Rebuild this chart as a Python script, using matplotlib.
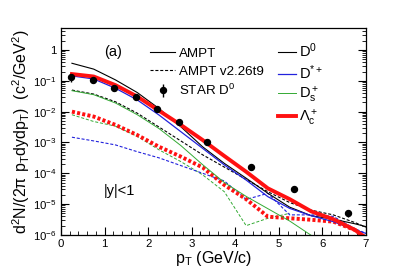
import numpy as np
import matplotlib
matplotlib.use("Agg")
import matplotlib.pyplot as plt
from matplotlib.lines import Line2D
from matplotlib.ticker import LogLocator, MultipleLocator, FixedFormatter, FixedLocator, NullFormatter

plt.rcParams["font.family"] = ["Liberation Sans", "DejaVu Sans"]
plt.rcParams["mathtext.default"] = "regular"
plt.rcParams["lines.scale_dashes"] = False

# pT grid of the model curves
pt = [0.25, 0.75, 1.25, 1.75, 2.25, 2.75, 3.25, 3.75, 4.25, 4.75, 5.25, 5.75, 6.25, 6.75, 7.0]

# AMPT (log10 of yield)
ampt_d0   = [-0.43, -0.62, -0.97, -1.38, -1.90, -2.49, -3.14, -3.68, -4.16, -4.65, -5.10, -5.38, -5.49, -5.64, -5.73]
ampt_dst  = [-0.84, -0.94, -1.24, -1.62, -2.11, -2.65, -3.19, -3.73, -4.22, -4.76, -5.14, -5.38, -5.57, -5.84, -5.95]
ampt_ds   = [-1.32, -1.45, -1.72, -2.10, -2.55, -3.10, -3.72, -4.30, -4.75, -5.15, -5.55, -6.02]
ampt_lc   = [-0.78, -0.86, -1.14, -1.51, -1.97, -2.43, -2.92, -3.44, -3.95, -4.49, -4.84, -5.24, -5.49, -5.84, -6.10]

# AMPT v2.26t9
old_d0    = [-1.30, -1.43, -1.68, -2.05, -2.50, -2.95, -3.40, -3.80, -4.20, -4.60, -4.95, -5.20, -5.35, -5.60, -5.75]
old_dst   = [-2.83, -2.95, -3.08, -3.30, -3.50, -3.75, -4.00, -4.25, -4.85, -4.65, -5.35, -5.35, -5.40, -5.80, -5.95]
old_ds    = [-2.10, -2.32, -2.47, -2.80, -3.24, -3.62, -4.05, -4.60, -5.70, -5.46, -5.30]
old_lc    = [-2.00, -2.16, -2.43, -2.76, -3.14, -3.46, -3.81, -4.38, -4.84, -5.41, -5.46, -5.51, -5.57, -5.84, -6.10]

# STAR D0 data
star_pt  = [0.23, 0.73, 1.22, 1.71, 2.20, 2.71, 3.36, 4.36, 5.36, 6.60]
star_y   = [0.13, 0.104, 0.057, 0.030, 0.012, 0.0045, 0.00104, 1.6e-4, 3.2e-5, 5.0e-6]
star_err = [0.035, 0.008, 0.005, 0.003, 0.001, 0.0004, 0.00008, 1.5e-5, 5e-6, 1.3e-6]

fig = plt.figure(figsize=(4.07, 2.77), dpi=100)
ax = fig.add_axes([0.150, 0.152, 0.749, 0.748])

def draw(vals, color, lw, dashed):
    x = pt[:len(vals)]
    y = 10.0 ** np.array(vals)
    if dashed:
        ax.plot(x, y, color=color, lw=lw, dashes=dashed, dash_capstyle="butt")
    else:
        ax.plot(x, y, color=color, lw=lw)

DOT = (2.2, 1.3)
DOT_THICK = (2.2, 1.6)
draw(old_ds, "#33aa33", 0.7, DOT)
draw(old_dst, "#2222dd", 0.8, DOT)
draw(old_d0, "black", 0.8, DOT)
draw(old_lc, "#ff1111", 2.8, DOT_THICK)
draw(ampt_ds, "#33aa33", 0.7, None)
draw(ampt_d0, "black", 0.8, None)
draw(ampt_dst, "#2222dd", 0.9, None)
draw(ampt_lc, "#ff1111", 2.8, None)

star = ax.errorbar(star_pt, star_y, yerr=star_err, fmt="o", color="black", ms=4.3,
                   elinewidth=1.0, capsize=0, zorder=5)

ax.set_yscale("log")
ax.set_xlim(0, 7)
ax.set_ylim(1e-6, 5.3)

ax.yaxis.set_major_locator(FixedLocator([1e-6, 1e-5, 1e-4, 1e-3, 1e-2, 1e-1, 1]))
ax.yaxis.set_major_formatter(FixedFormatter(["$10^{-6}$", "$10^{-5}$", "$10^{-4}$", "$10^{-3}$",
                                             "$10^{-2}$", "$10^{-1}$", "1"]))
ax.yaxis.set_minor_locator(LogLocator(base=10, subs=np.arange(2, 10), numticks=20))
ax.yaxis.set_minor_formatter(NullFormatter())
ax.xaxis.set_major_locator(MultipleLocator(1))
ax.xaxis.set_minor_locator(MultipleLocator(0.2))

ax.tick_params(which="both", direction="in", right=True, top=False, labelsize=8.2, pad=3)
ax.tick_params(which="major", length=6, width=0.8)
ax.tick_params(which="minor", length=3, width=0.6)
for s in ax.spines.values():
    s.set_linewidth(0.9)

ax.set_xlabel("$p_T$ (GeV/c)", fontsize=11.5, labelpad=0)
ax.set_ylabel("$d^2N/(2\\pi\\ p_T dydp_T)$  $(c^2/GeV^2)$", fontsize=11.5, labelpad=1)

ax.text(1.0, 0.85, "(a)", fontsize=10.5, ha="left", va="center")
ax.text(0.97, 10 ** -4.57, "|y|<1", fontsize=10.5, ha="left", va="center")

# legend: left column
leg1 = [Line2D([], [], color="black", lw=0.8),
        Line2D([], [], color="black", lw=0.8, dashes=DOT),
        star]
l1 = ax.legend(leg1, ["AMPT", "AMPT v2.26t9", "STAR $D^0$"], loc="upper left",
               bbox_to_anchor=(0.253, 0.962), frameon=False, fontsize=9.6,
               handlelength=1.85, handletextpad=0.3, labelspacing=0.4)
ax.add_artist(l1)

leg2 = [Line2D([], [], color="black", lw=0.8),
        Line2D([], [], color="#2222dd", lw=0.9),
        Line2D([], [], color="#33aa33", lw=0.7),
        Line2D([], [], color="#ff1111", lw=2.8)]
ax.legend(leg2, ["$D^0$", "$D^{*+}$", "$D_s^+$", "$\\Lambda_c^+$"], loc="upper left",
          bbox_to_anchor=(0.67, 0.995), frameon=False, fontsize=10.5,
          handlelength=1.2, handletextpad=0.2, labelspacing=0.2)

fig.savefig("out.png", dpi=100)
